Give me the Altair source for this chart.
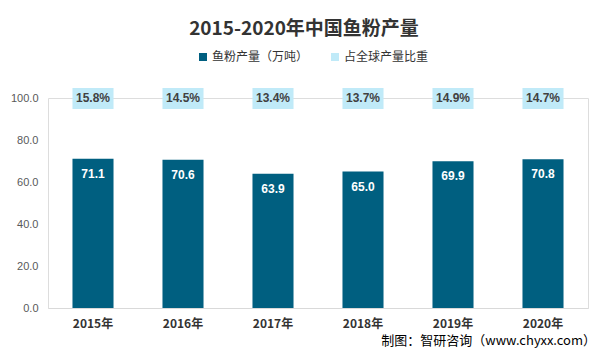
import altair as alt
import pandas as pd

years = ["2015年", "2016年", "2017年", "2018年", "2019年", "2020年"]
output = [71.1, 70.6, 63.9, 65.0, 69.9, 70.8]
share = [15.8, 14.5, 13.4, 13.7, 14.9, 14.7]
series = ["鱼粉产量（万吨）", "占全球产量比重"]
colors = ["#005F80", "#C0EAF8"]

CJK = "Noto Sans CJK SC"
NUM = "Liberation Sans"

df = pd.DataFrame({"year": years, "output": output, "share": share})
df["s_out"] = series[0]
df["s_share"] = series[1]

x = alt.X("year:N", sort=years,
          scale=alt.Scale(paddingInner=0.544, paddingOuter=0.272),
          axis=alt.Axis(title=None, labelAngle=0, labelFont=CJK, labelFontSize=12,
                        labelFontWeight="bold", labelColor="#333333", labelPadding=10,
                        ticks=False, domainColor="#D9D9D9", domainWidth=1))
color_scale = alt.Scale(domain=series, range=colors)
legend = alt.Legend(title=None, orient="none", legendX=149, legendY=-47,
                    direction="horizontal", symbolType="square", symbolSize=64,
                    symbolStrokeWidth=0, labelFont=CJK, labelFontSize=12,
                    labelColor="#333333", columnPadding=20, labelOffset=3)

base = alt.Chart(df)

bars = base.mark_bar().encode(
    x=x,
    y=alt.Y("output:Q", scale=alt.Scale(domain=[0, 100], nice=False),
            axis=alt.Axis(title=None, values=[0, 20, 40, 60, 80, 100], format=".1f",
                          grid=False, domain=False, ticks=False, labelFont=NUM,
                          labelFontSize=11, labelColor="#595959", labelPadding=10)),
    color=alt.Color("s_out:N", scale=color_scale, legend=legend),
)

bar_labels = base.mark_text(baseline="middle", dy=15, font=NUM, fontSize=12,
                            fontWeight="bold", color="white").encode(
    x=x, y="output:Q", text=alt.Text("output:Q", format=".1f"))

boxes = base.mark_bar().encode(
    x=x,
    y=alt.YDatum(104.8),
    y2=alt.Y2Datum(94.8),
    color=alt.Color("s_share:N", scale=color_scale, legend=legend),
)

box_labels = base.transform_calculate(
    lab="format(datum.share, '.1f') + '%'"
).mark_text(baseline="middle", font=NUM, fontSize=12, fontWeight="bold",
            color="#404040").encode(x=x, y=alt.YDatum(100), text="lab:N")

one = alt.Data(values=[{"a": 1}])
title = alt.Chart(one).mark_text(align="center", baseline="middle", font=CJK,
                                 fontSize=19, fontWeight="bold", color="#333333").encode(
    x=alt.value(256), y=alt.value(-69), text=alt.value("2015-2020年中国鱼粉产量"))
footer = alt.Chart(one).mark_text(align="right", baseline="middle", font=CJK,
                                  fontSize=13, color="#000000").encode(
    x=alt.value(548), y=alt.value(243), text=alt.value("制图：智研咨询（www.chyxx.com）"))

chart = alt.layer(bars, bar_labels, boxes, box_labels, title, footer).properties(
    width=540, height=210,
    autosize=alt.AutoSizeParams(type="none"),
    padding={"left": 40, "top": 90, "right": 10, "bottom": 48},
).configure_view(stroke=None).configure(background="white")

chart.save("out.html", embed_options={"renderer": "svg", "actions": False})
